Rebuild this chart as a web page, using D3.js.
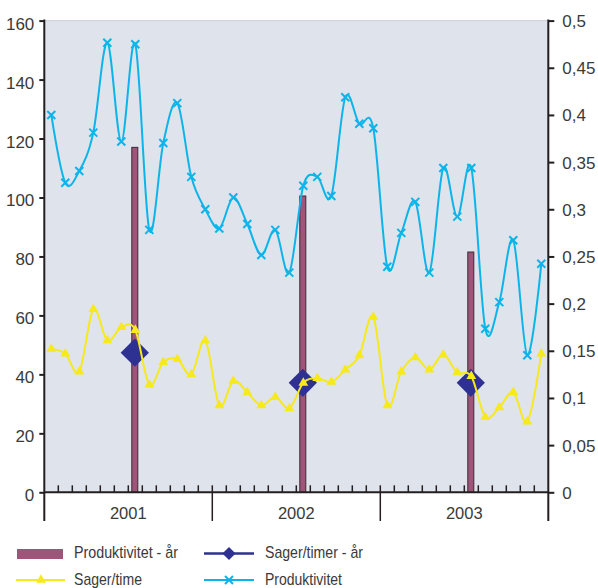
<!DOCTYPE html>
<html><head><meta charset="utf-8">
<script src="https://cdn.jsdelivr.net/npm/d3@7"></script>
<style>
html,body{margin:0;padding:0;background:#fff;}
svg{display:block;}
</style></head>
<body>
<svg id="chart" width="598" height="588"></svg>
<script>
// ---- data ----
const years = ["2001", "2002", "2003"];
const monthNames = ["Jan","Feb","Mar","Apr","Maj","Jun","Jul","Aug","Sep","Okt","Nov","Dec"];
// Produktivitet (monthly, left axis)
const produktivitet = [128, 105, 109, 122, 152.5, 119, 152, 89, 118.5, 132, 107, 96,
                       89.5, 100, 91, 80.5, 89, 74.5, 104, 107, 100.5, 134, 125, 123.5,
                       76.5, 88, 98.5, 74.5, 110, 93.5, 110, 55.5, 64.5, 85.5, 46.5, 77.5];
// Sager/time (monthly, right axis)
const sagerTime = [0.152, 0.147, 0.128, 0.194, 0.161, 0.175, 0.172, 0.114, 0.138, 0.141, 0.125, 0.161,
                   0.092, 0.118, 0.106, 0.092, 0.101, 0.089, 0.116, 0.121, 0.117, 0.130, 0.145, 0.186,
                   0.092, 0.128, 0.143, 0.130, 0.146, 0.127, 0.123, 0.080, 0.090, 0.106, 0.075, 0.147];
// yearly values, placed at July of each year
const yearMonth = "Jul";
const produktivitetAar = [117, 100.5, 81.5];   // left axis (bars)
const sagerTimerAar = [0.148, 0.116, 0.116];   // right axis (diamonds)
const leftTicks = [0, 20, 40, 60, 80, 100, 120, 140, 160];
const rightTicks = [0, 0.05, 0.1, 0.15, 0.2, 0.25, 0.3, 0.35, 0.4, 0.45, 0.5];
const legendLabels = ["Produktivitet - år", "Sager/timer - år", "Sager/time", "Produktivitet"];

// ---- layout ----
const L = 44.3, R = 548.3, T = 20.6, B = 492.3, AX_BOTTOM = 521;
const months = d3.cross(years, monthNames).map(d => d[0] + "-" + d[1]);
const svg = d3.select("#chart");
const x = d3.scaleBand().domain(months).range([L, R]).padding(0);
const xc = m => x(m) + x.bandwidth() / 2;
const yL = d3.scaleLinear().domain([0, 160]).range([B, T]);
const yR = d3.scaleLinear().domain([0, 0.5]).range([B, T]);

const COL = {bar: "#9f5479", cyan: "#0db4ea", yellow: "#f6e91c", navy: "#2e3192", axis: "#231f20", text: "#3a3a3a"};
const fontAxis = "'Liberation Sans', Arial, sans-serif";
const fontLegend = "'Liberation Sans Narrow', 'Arial Narrow', 'Liberation Sans', sans-serif";

// plot background
svg.append("rect").attr("x", L).attr("y", T).attr("width", R - L).attr("height", B - T).attr("fill", "#dfe3eb");
svg.append("line").attr("x1", L).attr("x2", R).attr("y1", T).attr("y2", T).attr("stroke", "#cdd1d8").attr("stroke-width", 1);

// bars
const barData = years.map((yr, i) => ({m: yr + "-" + yearMonth, v: produktivitetAar[i]}));
svg.append("g").selectAll("rect").data(barData).join("rect")
  .attr("x", d => xc(d.m) - 3.5).attr("width", 6)
  .attr("y", d => yL(d.v)).attr("height", d => B - yL(d.v))
  .attr("fill", COL.bar).attr("stroke", "#3b2a33").attr("stroke-width", 1);

// diamonds
const dia = d3.symbol().type(d3.symbolDiamond2).size(510);
const diaData = years.map((yr, i) => ({m: yr + "-" + yearMonth, v: sagerTimerAar[i]}));
svg.append("g").selectAll("path").data(diaData).join("path")
  .attr("d", dia)
  .attr("transform", d => `translate(${xc(d.m) - 0.5},${yR(d.v)})`)
  .attr("fill", COL.navy);

// yellow line (right axis)
const curve = d3.curveCatmullRom.alpha(0);
const lineY = d3.line().x((d, i) => xc(months[i])).y(d => yR(d)).curve(curve);
svg.append("path").datum(sagerTime).attr("d", lineY).attr("fill", "none").attr("stroke", COL.yellow).attr("stroke-width", 2);
const tri = d3.symbol().type(d3.symbolTriangle).size(42);
svg.append("g").selectAll("path").data(sagerTime).join("path")
  .attr("d", tri).attr("transform", (d, i) => `translate(${xc(months[i])},${yR(d)})`).attr("fill", COL.yellow);

// cyan line (left axis)
const lineC = d3.line().x((d, i) => xc(months[i])).y(d => yL(d)).curve(curve);
svg.append("path").datum(produktivitet).attr("d", lineC).attr("fill", "none").attr("stroke", COL.cyan).attr("stroke-width", 2);
const xs = 4;
svg.append("g").selectAll("path").data(produktivitet).join("path")
  .attr("d", `M${-xs},${-xs}L${xs},${xs}M${-xs},${xs}L${xs},${-xs}`)
  .attr("transform", (d, i) => `translate(${xc(months[i])},${yL(d)})`)
  .attr("stroke", COL.cyan).attr("stroke-width", 2).attr("fill", "none");

// left axis
const gL = svg.append("g").attr("transform", `translate(${L},0)`)
  .call(d3.axisLeft(yL).tickValues(leftTicks).tickSize(5).tickPadding(5).tickFormat(d3.format("d")));
gL.select(".domain").remove();
gL.selectAll("line").attr("stroke", COL.axis).attr("stroke-width", 2);
gL.selectAll("text").attr("font-family", fontAxis).attr("font-size", 17).attr("fill", COL.text).attr("dy", "0.5em");
svg.append("line").attr("x1", L).attr("x2", L).attr("y1", T - 1).attr("y2", AX_BOTTOM).attr("stroke", COL.axis).attr("stroke-width", 2);

// right axis
const loc = d3.formatLocale({decimal: ",", thousands: ".", grouping: [3], currency: ["", ""]});
const gR = svg.append("g").attr("transform", `translate(${R},0)`)
  .call(d3.axisRight(yR).tickValues(rightTicks).tickSize(6).tickPadding(8).tickFormat(loc.format("~g")));
gR.select(".domain").remove();
gR.selectAll("line").attr("stroke", COL.axis).attr("stroke-width", 2);
gR.selectAll("text").attr("font-family", fontAxis).attr("font-size", 17).attr("fill", COL.text).attr("dy", "0.35em");
svg.append("line").attr("x1", R).attr("x2", R).attr("y1", T - 1).attr("y2", AX_BOTTOM).attr("stroke", COL.axis).attr("stroke-width", 2);

// bottom axis
svg.append("line").attr("x1", L).attr("x2", R).attr("y1", B).attr("y2", B).attr("stroke", COL.axis).attr("stroke-width", 2);
svg.append("g").selectAll("line").data(months.slice(1)).join("line")
  .attr("x1", d => x(d)).attr("x2", d => x(d)).attr("y1", B).attr("y2", B - 7)
  .attr("stroke", COL.axis).attr("stroke-width", 1.5);
svg.append("g").selectAll("line").data(years.slice(1)).join("line")
  .attr("x1", d => x(d + "-Jan")).attr("x2", d => x(d + "-Jan")).attr("y1", B).attr("y2", AX_BOTTOM)
  .attr("stroke", COL.axis).attr("stroke-width", 1.5);
svg.append("g").selectAll("text").data(years).join("text")
  .attr("x", d => (x(d + "-Jan") + x(d + "-Dec") + x.bandwidth()) / 2).attr("y", 519)
  .attr("text-anchor", "middle").attr("font-family", fontAxis).attr("font-size", 16.5).attr("fill", COL.text)
  .text(d => d);

// legend
const lg = svg.append("g").attr("font-family", fontLegend).attr("font-size", 17).attr("fill", COL.text);
const legText = (tx, ty, t, w) => lg.append("text").attr("x", tx).attr("y", ty)
  .attr("textLength", w).attr("lengthAdjust", "spacingAndGlyphs").text(t);
lg.append("rect").attr("x", 17).attr("y", 549).attr("width", 46).attr("height", 10).attr("fill", COL.bar);
legText(74, 558, legendLabels[0], 104);
lg.append("line").attr("x1", 204).attr("x2", 254).attr("y1", 553.5).attr("y2", 553.5).attr("stroke", COL.navy).attr("stroke-width", 2.5);
lg.append("path").attr("d", d3.symbol().type(d3.symbolDiamond2).size(110)).attr("transform", "translate(229,553.5)").attr("fill", COL.navy);
legText(265, 558, legendLabels[1], 98);
lg.append("line").attr("x1", 16).attr("x2", 65).attr("y1", 580).attr("y2", 580).attr("stroke", COL.yellow).attr("stroke-width", 2);
lg.append("path").attr("d", tri).attr("transform", "translate(41,580)").attr("fill", COL.yellow);
legText(74, 585, legendLabels[2], 68);
lg.append("line").attr("x1", 204).attr("x2", 254).attr("y1", 580).attr("y2", 580).attr("stroke", COL.cyan).attr("stroke-width", 2);
lg.append("path").attr("d", `M${-xs},${-xs}L${xs},${xs}M${-xs},${xs}L${xs},${-xs}`).attr("transform", "translate(229,580)")
  .attr("stroke", COL.cyan).attr("stroke-width", 2);
legText(265, 585, legendLabels[3], 77);
</script>
</body></html>
